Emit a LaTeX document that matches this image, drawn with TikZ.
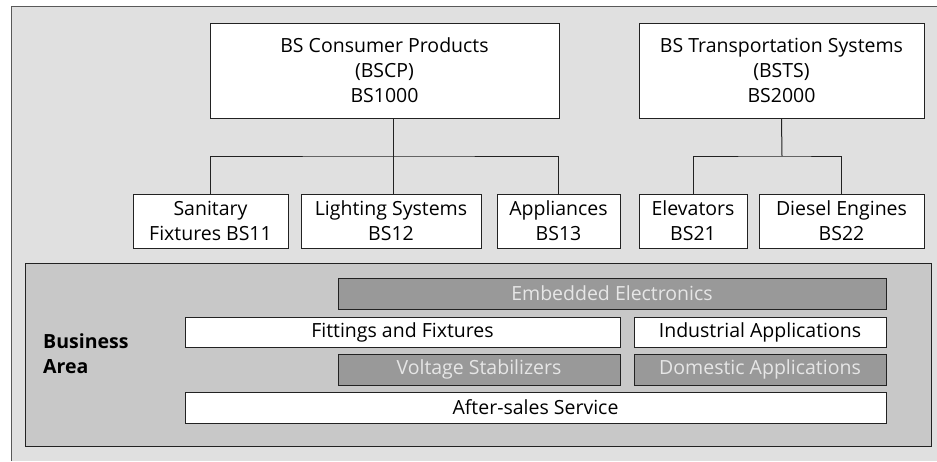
\documentclass[tikz,border=0pt]{standalone}
\usepackage{fontspec}
\setmainfont{Open Sans}
\usetikzlibrary{positioning}
\definecolor{bgframe}{HTML}{E0E0E0}
\definecolor{panelgray}{HTML}{C8C8C8}
\definecolor{darkbar}{HTML}{999999}
\definecolor{bartext}{HTML}{E6E6E6}
\definecolor{edge}{HTML}{222222}
\tikzset{
  unitbox/.style={draw=edge, line width=1pt, fill=white, align=center, inner sep=0pt,
    font=\fontsize{19.5}{25}\selectfont, text=black},
  barwhite/.style={draw=edge, line width=1pt, fill=white, inner sep=0pt,
    font=\fontsize{19.5}{25}\selectfont, text=black},
  bardark/.style={draw=edge, line width=1pt, fill=darkbar, inner sep=0pt,
    font=\fontsize{19.5}{25}\selectfont, text=bartext},
  link/.style={draw=edge, line width=1pt},
}
\begin{document}
\begin{tikzpicture}[x=1pt,y=-1pt]
  \useasboundingbox (0,0) rectangle (937,461);
  % outer frame
  \fill[bgframe] (11,6) rectangle (937,461);
  \draw[line width=1pt, draw=black!65] (11,461) -- (11,6) -- (937,6);

  % company codes
  \node[unitbox, minimum width=349pt, minimum height=95pt] (bscp) at (384.5,70.5)
    {BS Consumer Products\\(BSCP)\\BS1000};
  \node[unitbox, minimum width=285pt, minimum height=95pt] (bsts) at (781.5,70.5)
    {BS Transportation Systems\\(BSTS)\\BS2000};

  % divisions
  \node[unitbox, minimum width=155pt, minimum height=54pt] (san) at (210.5,221)
    {Sanitary\\Fixtures BS11};
  \node[unitbox, minimum width=180pt, minimum height=54pt] (lig) at (391,221)
    {Lighting Systems\\BS12};
  \node[unitbox, minimum width=123pt, minimum height=54pt] (app) at (558.5,221)
    {Appliances\\BS13};
  \node[unitbox, minimum width=108pt, minimum height=54pt] (ele) at (693,221)
    {Elevators\\BS21};
  \node[unitbox, minimum width=165pt, minimum height=54pt] (die) at (841.5,221)
    {Diesel Engines\\BS22};

  % tree connectors
  \coordinate (j1) at (393,156);
  \coordinate (j2) at (782,156);
  \draw[link] (j1 |- bscp.south) -- (j1);
  \draw[link] (san.north) |- (j1) -| (app.north);
  \draw[link] (j1) -- (j1 |- lig.north);
  \draw[link] (bsts.south) -- (j2);
  \draw[link] (ele.north) |- (j2) -| (die.north);

  % business area panel
  \node[draw=edge, line width=1pt, fill=panelgray, minimum width=906pt, minimum height=183pt,
    inner sep=0pt] (panel) at (478,354.5) {};
  \node[anchor=west, align=left, inner sep=0pt, font=\fontsize{19.5}{25}\selectfont\bfseries]
    (ba) at (43,354) {Business\\Area};

  \node[bardark, minimum width=548pt, minimum height=31pt] (emb) at (612,293.5) {Embedded Electronics};
  \node[barwhite, minimum width=435pt, minimum height=30pt] (fit) at (402.5,332) {Fittings and Fixtures};
  \node[barwhite, minimum width=252pt, minimum height=30pt] (ind) at (760,332) {Industrial Applications};
  \node[bardark, minimum width=282pt, minimum height=31pt] (vol) at (479,369.5) {Voltage Stabilizers};
  \node[bardark, minimum width=252pt, minimum height=31pt] (dom) at (760,369.5) {Domestic Applications};
  \node[barwhite, minimum width=701pt, minimum height=31pt] (aft) at (535.5,407.5) {After-sales Service};
\end{tikzpicture}
\end{document}
